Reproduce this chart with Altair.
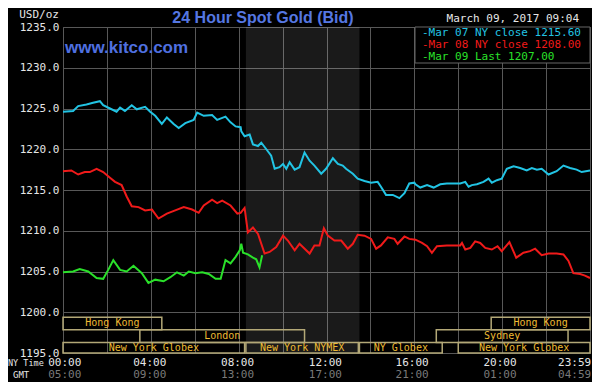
import altair as alt
import pandas as pd

# ---------------- data (hours since 00:00 NY time, USD/oz) ----------------
cyan_h = [0.0, 0.46, 0.69, 1.07, 1.37, 1.68, 1.83, 2.14, 2.44, 2.60, 2.82, 3.13, 3.36, 3.74, 3.97,
          4.20, 4.50, 4.73, 5.04, 5.27, 5.57, 5.95, 6.11, 6.41, 6.79, 7.02, 7.40, 7.63, 7.86, 8.09,
          8.12, 8.27, 8.50, 8.65, 8.88, 9.03, 9.26, 9.48, 9.64, 9.86, 10.02, 10.17, 10.32, 10.55,
          10.77, 11.0, 11.23, 11.45, 11.76, 11.98, 12.29, 12.52, 12.74, 12.89, 13.20, 13.42, 13.73,
          14.03, 14.33, 14.48, 14.71, 15.02, 15.32, 15.55, 15.77, 16.0, 16.05, 16.27, 16.58, 16.88,
          17.18, 17.48, 18.09, 18.32, 18.47, 18.62, 18.85, 19.15, 19.38, 19.53, 19.76, 19.98, 20.21,
          20.52, 20.82, 21.12, 21.35, 21.58, 21.80, 22.11, 22.48, 22.79, 23.09, 23.39, 23.62, 24.0]
cyan_p = [1224.6, 1224.7, 1225.3, 1225.5, 1225.7, 1225.9, 1225.4, 1225.0, 1224.6, 1225.1, 1224.7,
          1225.4, 1224.9, 1225.2, 1224.6, 1224.1, 1223.1, 1223.9, 1223.1, 1222.6, 1223.2, 1223.6,
          1224.5, 1224.1, 1224.2, 1223.6, 1224.0, 1223.3, 1222.8, 1222.7,
          1222.2, 1221.6, 1221.8, 1220.6, 1220.4, 1220.8, 1220.0, 1219.2, 1217.6, 1217.8, 1218.2,
          1217.6, 1218.4, 1217.5, 1217.8, 1219.6, 1218.6, 1218.0, 1217.0, 1217.6, 1218.9, 1218.2,
          1218.0, 1217.6, 1217.0, 1216.4, 1216.1, 1215.9, 1216.0, 1215.4, 1214.4, 1214.4, 1214.0,
          1214.6, 1215.8, 1215.9, 1215.7, 1215.3, 1215.6, 1215.3, 1215.7, 1215.8, 1215.8, 1216.0,
          1215.4, 1215.6, 1215.7, 1216.0, 1216.4, 1215.9, 1216.2, 1216.4, 1217.6, 1217.9, 1217.7,
          1217.4, 1217.7, 1217.5, 1217.6, 1216.9, 1217.3, 1218.0, 1217.7, 1217.5, 1217.2, 1217.4]

red_h = [0.0, 0.38, 0.69, 0.99, 1.22, 1.53, 1.83, 2.14, 2.37, 2.67, 2.90, 3.13, 3.44, 3.74, 4.05,
         4.35, 4.73, 5.11, 5.50, 5.88, 6.18, 6.41, 6.79, 7.02, 7.25, 7.63, 7.94, 8.09, 8.27, 8.42,
         8.65, 8.88, 9.18, 9.41, 9.71, 10.02, 10.24, 10.55, 10.77, 11.23, 11.45, 11.68, 11.88, 12.06,
         12.36, 12.67, 12.97, 13.20, 13.42, 13.73, 14.03, 14.26, 14.48, 14.79, 15.09, 15.24, 15.55,
         15.77, 16.05, 16.35, 16.58, 16.80, 17.03, 17.48, 18.09, 18.17, 18.32, 18.55, 18.77, 19.0,
         19.23, 19.53, 19.79, 19.98, 20.33, 20.64, 20.97, 21.27, 21.50, 21.80, 22.11, 22.48, 22.79,
         23.02, 23.24, 23.55, 23.77, 24.0]
red_p = [1217.3, 1217.4, 1216.9, 1217.2, 1217.2, 1217.6, 1217.2, 1216.5, 1216.0, 1215.6, 1214.2,
         1213.0, 1212.9, 1212.5, 1212.6, 1211.5, 1212.1, 1212.5, 1212.9, 1212.6, 1212.2, 1213.1,
         1213.8, 1213.4, 1213.7, 1213.1, 1212.1, 1212.2, 1212.8, 1209.8, 1210.4, 1209.6, 1207.2,
         1207.4, 1208.0, 1209.4, 1208.8, 1207.6, 1208.4, 1207.2, 1208.2, 1208.2, 1210.3, 1209.4,
         1208.8, 1208.8, 1207.8, 1208.4, 1209.5, 1209.4, 1209.0, 1207.8, 1208.2, 1209.2, 1209.0,
         1208.4, 1209.3, 1209.0, 1208.9, 1208.5, 1208.1, 1207.3, 1208.1, 1208.2, 1208.2, 1208.5,
         1207.7, 1207.9, 1208.7, 1208.5, 1207.9, 1207.7, 1208.1, 1207.5, 1208.6, 1206.7, 1207.3,
         1207.5, 1207.8, 1207.0, 1207.2, 1207.2, 1207.1, 1206.3, 1204.8, 1204.7, 1204.5, 1204.2]

green_h = [0.0, 0.46, 0.76, 1.15, 1.53, 1.83, 2.06, 2.29, 2.60, 2.90, 3.21, 3.59, 3.89, 4.20, 4.58,
           4.89, 5.19, 5.50, 5.73, 6.03, 6.34, 6.64, 6.95, 7.18, 7.40, 7.63, 7.86, 8.05, 8.12, 8.20,
           8.42, 8.65, 8.80, 8.95, 9.03, 9.07]
green_p = [1204.9, 1205.0, 1205.3, 1205.0, 1204.2, 1204.1, 1205.2, 1206.4, 1205.2, 1205.0, 1205.7,
           1204.8, 1203.6, 1204.0, 1203.8, 1204.3, 1204.9, 1204.5, 1205.0, 1204.8, 1204.9, 1204.7,
           1204.1, 1204.1, 1206.4, 1206.0, 1206.8, 1207.6, 1208.4, 1207.3, 1207.1, 1206.7, 1206.5,
           1205.5, 1206.5, 1207.0]

series_names = ["Mar 07", "Mar 08", "Mar 09"]
series_colors = ["#22c4e4", "#f01a1a", "#2ae02a"]
legend_labels = ["-Mar 07 NY close 1215.60", "-Mar 08 NY close 1208.00", "-Mar 09 Last 1207.00"]

# trading sessions
sess_names = ["Hong Kong", "Hong Kong", "London", "Sydney",
              "New York Globex", "New York NYMEX", "NY Globex", "New York Globex"]
sess_start = [0.0, 19.5, 3.5, 17.0, 0.0, 8.33, 13.5, 18.0]
sess_end = [4.5, 24.0, 11.0, 23.0, 8.27, 13.45, 17.27, 24.0]
sess_top = [1199.4, 1199.4, 1197.85, 1197.85, 1196.3, 1196.3, 1196.3, 1196.3]
sess_bot = [1197.85, 1197.85, 1196.3, 1196.3, 1195.0, 1195.0, 1195.0, 1195.0]

# NYMEX shaded period
shade_start = [8.33]
shade_end = [13.5]

# axis labels
y_ticks = [1195, 1200, 1205, 1210, 1215, 1220, 1225, 1230, 1235]
x_grid = [0, 2, 4, 6, 8, 10, 12, 14, 16, 18, 20, 22, 24]
x_label_pos = [0.08, 3.95, 7.95, 11.95, 15.9, 19.9, 23.3]
ny_labels = ["00:00", "04:00", "08:00", "12:00", "16:00", "20:00", "23:59"]
gmt_labels = ["05:00", "09:00", "13:00", "17:00", "21:00", "01:00", "04:59"]

title_text = "24 Hour Spot Gold (Bid)"
site_text = "www.kitco.com"
unit_text = "USD/oz"
date_text = "March 09, 2017 09:04"

# ---------------- build ----------------
W, H = 527, 326
MONO = "DejaVu Sans Mono"

rows = []
for name, hs, ps in zip(series_names, [cyan_h, red_h, green_h], [cyan_p, red_p, green_p]):
    for h, p in zip(hs, ps):
        rows.append({"series": name, "hour": h, "price": p})
lines_df = pd.DataFrame(rows)

xs = alt.Scale(domain=[0, 24], nice=False, zero=False)
ys = alt.Scale(domain=[1195, 1235], nice=False, zero=False)

X = alt.X("hour:Q", scale=xs,
          axis=alt.Axis(values=x_grid, labels=False, ticks=False, domain=False, title=None,
                        grid=True, gridColor="#585858", gridWidth=1))
Y = alt.Y("price:Q", scale=ys,
          axis=alt.Axis(values=y_ticks, format=".1f", ticks=False, domain=False, title=None,
                        grid=True, gridColor="#585858", gridWidth=1,
                        labelFont=MONO, labelFontSize=11, labelColor="#e6e6e6",
                        labelPadding=4))

dummy = pd.DataFrame({"a": [0]})

shade = alt.Chart(pd.DataFrame({"s": shade_start, "e": shade_end})).mark_rect(
    fill="#ffffff", opacity=0.1).encode(
    x=alt.X("s:Q", scale=xs), x2="e:Q", y=alt.value(0), y2=alt.value(H))

lines = alt.Chart(lines_df).mark_line(strokeWidth=2, interpolate="linear").encode(
    x=X, y=Y,
    color=alt.Color("series:N", scale=alt.Scale(domain=series_names, range=series_colors),
                    legend=None))

sess_df = pd.DataFrame({"name": sess_names, "s": sess_start, "e": sess_end,
                        "t": sess_top, "b": sess_bot})
sess_df["mid_h"] = (sess_df["s"] + sess_df["e"]) / 2
sess_df["mid_p"] = (sess_df["t"] + sess_df["b"]) / 2

sess_box = alt.Chart(sess_df).mark_rect(fillOpacity=0, stroke="#b3a877", strokeWidth=1.5).encode(
    x=alt.X("s:Q", scale=xs), x2="e:Q", y=alt.Y("t:Q", scale=ys), y2="b:Q")
sess_txt = alt.Chart(sess_df).mark_text(font=MONO, fontSize=10, color="#eebb33",
                                        baseline="middle").encode(
    x=alt.X("mid_h:Q", scale=xs), y=alt.Y("mid_p:Q", scale=ys), text="name:N")

leg_box = alt.Chart(dummy).mark_rect(fill="#000000", stroke="#666666", strokeWidth=1).encode(
    x=alt.value(352), x2=alt.value(W), y=alt.value(0), y2=alt.value(36))
leg_layers = []
for i, (lab, col) in enumerate(zip(legend_labels, series_colors)):
    leg_layers.append(alt.Chart(pd.DataFrame({"t": [lab]})).mark_text(
        font=MONO, fontSize=11, color=col, align="left", baseline="middle").encode(
        x=alt.value(359), y=alt.value(5.5 + 12 * i), text="t:N"))

xlab_df = pd.DataFrame({"pos": x_label_pos, "ny": ny_labels, "gmt": gmt_labels})
ny_txt = alt.Chart(xlab_df).mark_text(font=MONO, fontSize=11, color="#e6e6e6",
                                      baseline="alphabetic").encode(
    x=alt.X("pos:Q", scale=xs), y=alt.value(H + 13), text="ny:N")
gmt_txt = alt.Chart(xlab_df).mark_text(font=MONO, fontSize=11, color="#7a7a7a",
                                       baseline="alphabetic").encode(
    x=alt.X("pos:Q", scale=xs), y=alt.value(H + 25), text="gmt:N")


def label(text, x, y, **kw):
    return alt.Chart(pd.DataFrame({"t": [text]})).mark_text(**kw).encode(
        x=alt.value(x), y=alt.value(y), text="t:N")


ny_time = label("NY Time", -55, H + 13, font=MONO, fontSize=8.5, color="#e6e6e6",
                align="left", baseline="alphabetic")
gmt_name = label("GMT", -50, H + 25, font=MONO, fontSize=9, color="#e6e6e6",
                 align="left", baseline="alphabetic")
usd = label(unit_text, -4, -9, font=MONO, fontSize=11, color="#e6e6e6",
            align="right", baseline="alphabetic")
date = label(date_text, 516, -5, font=MONO, fontSize=11, color="#e6e6e6",
             align="right", baseline="alphabetic")
title = label(title_text, 200, -4, font="Liberation Sans", fontSize=16, fontWeight="bold",
              color="#5577e2", align="center", baseline="alphabetic")
site = label(site_text, 2, 26, font="Liberation Sans", fontSize=17, fontWeight="bold",
             color="#4f70e0", align="left", baseline="alphabetic")

chart = alt.layer(
    shade, lines, sess_box, sess_txt, leg_box, *leg_layers,
    ny_txt, gmt_txt, ny_time, gmt_name, usd, date, title, site
).properties(
    width=W, height=H,
    padding={"left": 55, "top": 19, "right": 2, "bottom": 29},
    autosize=alt.AutoSizeParams(type="none"),
    background="#000000",
).configure_view(stroke="#585858", strokeWidth=1)

chart.save("out.html", embed_options={"renderer": "svg", "actions": False})
